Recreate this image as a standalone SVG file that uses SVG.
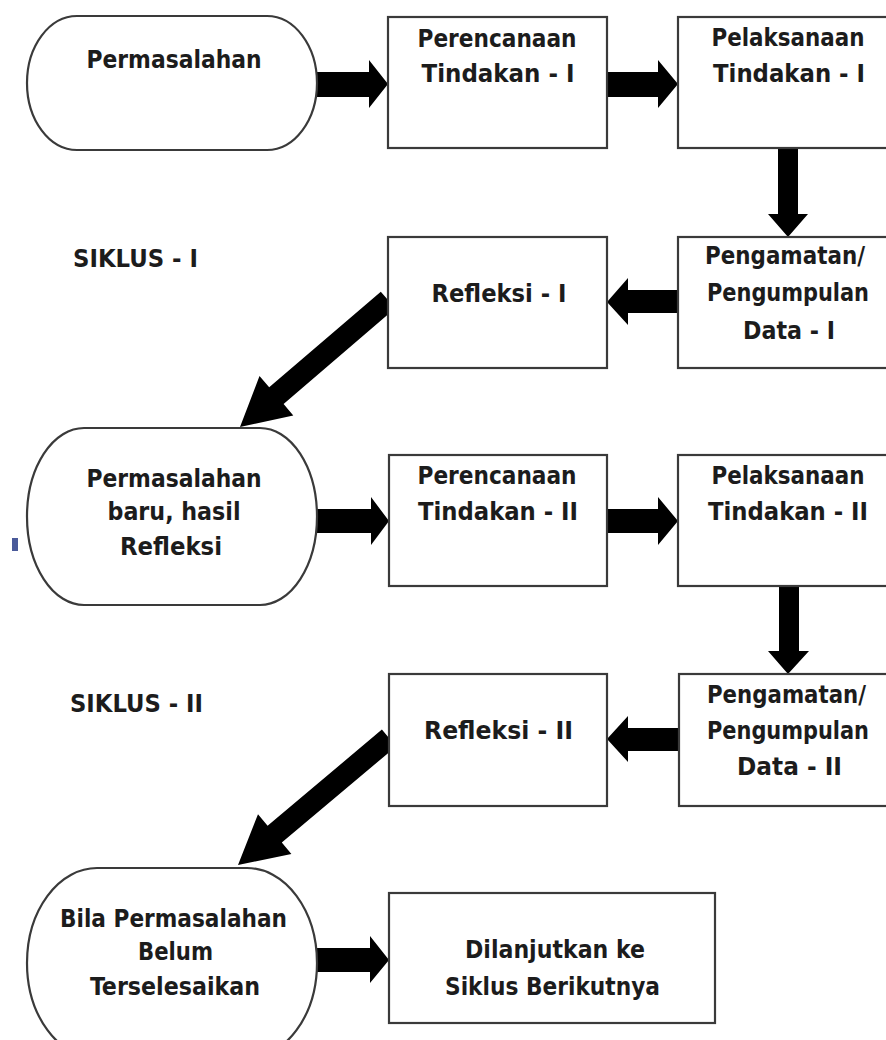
<svg xmlns="http://www.w3.org/2000/svg" width="886" height="1040" viewBox="0 0 886 1040">
<style>
.n{fill:#fff;stroke:#3a3a3a;stroke-width:2.2}
.t{font-family:"DejaVu Sans Condensed","DejaVu Sans",sans-serif;font-weight:bold;font-size:25px;fill:#1c1c1c;text-anchor:middle}
.a{fill:#000}
</style>
<rect width="886" height="1040" fill="#fff"/>
<g id="connectors">
<polygon class="a" points="310,72 369,72 369,60 388,84 369,108 369,97 310,97"/>
<polygon class="a" points="607,72 658,72 658,60 678,84 658,108 658,97 607,97"/>
<polygon class="a" points="778,148 798,148 798,214 808,214 788,237 768,214 778,214"/>
<polygon class="a" points="679,290 628,290 628,278 607,302 628,325 628,313 679,313"/>
<polygon class="a" points="395.2,308.3 283.6,404 293.3,415.4 240,427 259.5,376 269.2,387.3 380.8,291.7"/>
<polygon class="a" points="310,509 371,509 371,497 389,521 371,545 371,533 310,533"/>
<polygon class="a" points="607,509 658,509 658,497 678,521 658,545 658,533 607,533"/>
<polygon class="a" points="779,586 799,586 799,651 809,651 788,674 768,651 779,651"/>
<polygon class="a" points="679,728 628,728 628,716 607,739 628,762 628,751 679,751"/>
<polygon class="a" points="396.1,746.4 281.8,842.5 291.4,854 238,865 258,814.2 267.6,825.7 381.9,729.6"/>
<polygon class="a" points="310,948 370,948 370,936 389,960 370,983 370,972 310,972"/>
</g>
<g id="permasalahan">
<rect class="n" x="27" y="16" width="290" height="134" rx="50" ry="67"/>
<text class="t" x="174" y="68" textLength="175" lengthAdjust="spacingAndGlyphs">Permasalahan</text>
</g>
<g id="perencanaan1">
<rect class="n" x="388" y="17" width="219" height="131"/>
<text class="t" x="497" y="47" textLength="159" lengthAdjust="spacingAndGlyphs">Perencanaan</text>
<text class="t" x="498" y="82" textLength="153" lengthAdjust="spacingAndGlyphs">Tindakan - I</text>
</g>
<g id="pelaksanaan1">
<rect class="n" x="678" y="17" width="225" height="131"/>
<text class="t" x="788" y="46" textLength="153" lengthAdjust="spacingAndGlyphs">Pelaksanaan</text>
<text class="t" x="789" y="82" textLength="152" lengthAdjust="spacingAndGlyphs">Tindakan - I</text>
</g>
<g id="siklus1">
<text class="t" x="135.5" y="267" textLength="125" lengthAdjust="spacingAndGlyphs">SIKLUS - I</text>
</g>
<g id="refleksi1">
<rect class="n" x="388" y="237" width="219" height="131"/>
<text class="t" x="499" y="302" textLength="135" lengthAdjust="spacingAndGlyphs">Refleksi - I</text>
</g>
<g id="pengamatan1">
<rect class="n" x="678" y="237" width="225" height="131"/>
<text class="t" x="785" y="264" textLength="160" lengthAdjust="spacingAndGlyphs">Pengamatan/</text>
<text class="t" x="788" y="301" textLength="162" lengthAdjust="spacingAndGlyphs">Pengumpulan</text>
<text class="t" x="789" y="339" textLength="92" lengthAdjust="spacingAndGlyphs">Data - I</text>
</g>
<g id="permasalahan-baru">
<rect class="n" x="27" y="428" width="290" height="177" rx="57" ry="88.5"/>
<text class="t" x="174" y="487" textLength="175" lengthAdjust="spacingAndGlyphs">Permasalahan</text>
<text class="t" x="174" y="520" textLength="133" lengthAdjust="spacingAndGlyphs">baru, hasil</text>
<text class="t" x="171" y="555" textLength="102" lengthAdjust="spacingAndGlyphs">Refleksi</text>
</g>
<rect x="12" y="538" width="6" height="13" fill="#4a5a9a"/>
<g id="perencanaan2">
<rect class="n" x="389" y="455" width="218" height="131"/>
<text class="t" x="497" y="484" textLength="159" lengthAdjust="spacingAndGlyphs">Perencanaan</text>
<text class="t" x="498" y="520" textLength="160" lengthAdjust="spacingAndGlyphs">Tindakan - II</text>
</g>
<g id="pelaksanaan2">
<rect class="n" x="678" y="455" width="225" height="131"/>
<text class="t" x="788" y="484" textLength="153" lengthAdjust="spacingAndGlyphs">Pelaksanaan</text>
<text class="t" x="788" y="520" textLength="160" lengthAdjust="spacingAndGlyphs">Tindakan - II</text>
</g>
<g id="siklus2">
<text class="t" x="136.5" y="712" textLength="133" lengthAdjust="spacingAndGlyphs">SIKLUS - II</text>
</g>
<g id="refleksi2">
<rect class="n" x="389" y="674" width="218" height="132"/>
<text class="t" x="498.5" y="739" textLength="149" lengthAdjust="spacingAndGlyphs">Refleksi - II</text>
</g>
<g id="pengamatan2">
<rect class="n" x="679" y="674" width="225" height="132"/>
<text class="t" x="786.5" y="703" textLength="159" lengthAdjust="spacingAndGlyphs">Pengamatan/</text>
<text class="t" x="788" y="739" textLength="162" lengthAdjust="spacingAndGlyphs">Pengumpulan</text>
<text class="t" x="789.5" y="775" textLength="105" lengthAdjust="spacingAndGlyphs">Data - II</text>
</g>
<g id="bila-permasalahan">
<rect class="n" x="27" y="868" width="290" height="190" rx="70" ry="95"/>
<text class="t" x="173.5" y="927" textLength="227" lengthAdjust="spacingAndGlyphs">Bila Permasalahan</text>
<text class="t" x="175.5" y="960" textLength="75" lengthAdjust="spacingAndGlyphs">Belum</text>
<text class="t" x="175" y="995" textLength="170" lengthAdjust="spacingAndGlyphs">Terselesaikan</text>
</g>
<g id="dilanjutkan">
<rect class="n" x="389" y="893" width="326" height="130"/>
<text class="t" x="555" y="958" textLength="180" lengthAdjust="spacingAndGlyphs">Dilanjutkan ke</text>
<text class="t" x="552.5" y="995" textLength="215" lengthAdjust="spacingAndGlyphs">Siklus Berikutnya</text>
</g>
</svg>
